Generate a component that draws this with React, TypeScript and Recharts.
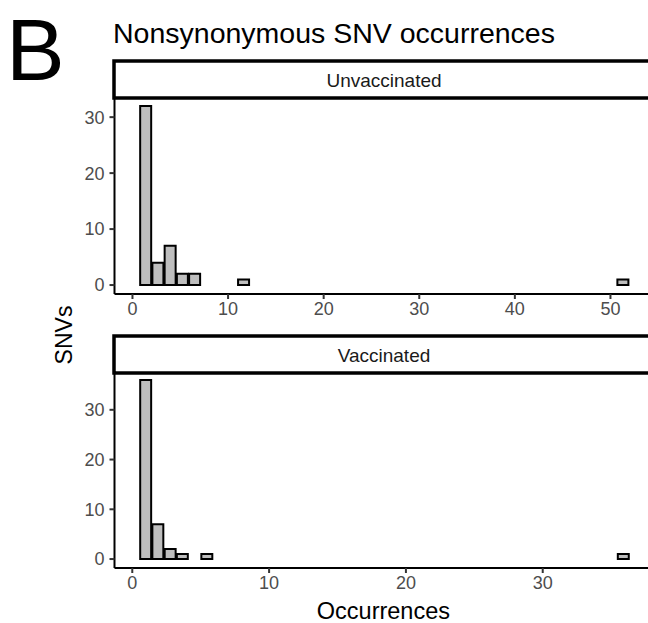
import { BarChart, Bar, XAxis, YAxis } from 'recharts';

// histogram bins (bin centres, counts)
const unvaxBins = [1.34, 2.62, 3.9, 5.18, 6.46, 11.58, 51.26];
const unvaxCounts = [32, 4, 7, 2, 2, 1, 1];
const vaxBins = [0.95, 1.84, 2.74, 3.63, 5.42, 35.86];
const vaxCounts = [36, 7, 2, 1, 1, 1];

const unvaxXTicks = [0, 10, 20, 30, 40, 50];
const vaxXTicks = [0, 10, 20, 30];
const yTicks = [0, 10, 20, 30];

const FONT = '"Liberation Sans", Arial, Helvetica, sans-serif';
const tickStyle = { fontSize: 18, fill: '#4d4d4d', fontFamily: FONT };

type Bin = { x: number; n: number };

function Panel({
  data,
  xDomain,
  xTicks,
  yDomain,
  top,
  barSize,
}: {
  data: Bin[];
  xDomain: [number, number];
  xTicks: number[];
  yDomain: [number, number];
  top: number;
  barSize: number;
}) {
  return (
    <div style={{ position: 'absolute', left: 0, top, width: 660, height: 234 }}>
      <BarChart
        width={660}
        height={234}
        data={data}
        margin={{ top: 7, right: 7, left: 74.5, bottom: 0 }}
      >
        <XAxis
          type="number"
          dataKey="x"
          domain={xDomain}
          ticks={xTicks}
          allowDataOverflow
          height={30}
          tickSize={5}
          tickMargin={3}
          tick={tickStyle}
          axisLine={{ stroke: '#000', strokeWidth: 2 }}
          tickLine={{ stroke: '#333', strokeWidth: 2 }}
        />
        <YAxis
          type="number"
          domain={yDomain}
          ticks={yTicks}
          allowDataOverflow
          width={40}
          tickSize={5}
          tickMargin={5}
          tick={tickStyle}
          axisLine={{ stroke: '#000', strokeWidth: 2 }}
          tickLine={{ stroke: '#333', strokeWidth: 2 }}
        />
        <Bar
          dataKey="n"
          fill="#bebebe"
          stroke="#000"
          strokeWidth={2}
          barSize={barSize}
          isAnimationActive={false}
        />
      </BarChart>
    </div>
  );
}

function Strip({ top, label }: { top: number; label: string }) {
  return (
    <g>
      <rect x={114} y={top} width={560} height={37} fill="#fff" stroke="#000" strokeWidth={3.5} />
      <text x={384} y={top + 25.5} textAnchor="middle" fontSize={19} fill="#1a1a1a" fontFamily={FONT}>
        {label}
      </text>
    </g>
  );
}

export default function App() {
  const unvax = unvaxBins.map((x, i) => ({ x, n: unvaxCounts[i] }));
  const vax = vaxBins.map((x, i) => ({ x, n: vaxCounts[i] }));

  return (
    <div
      style={{
        position: 'absolute',
        left: 0,
        top: 0,
        width: 648,
        height: 623,
        overflow: 'hidden',
        background: '#fff',
        fontFamily: FONT,
      }}
    >
      <svg width={648} height={623} style={{ position: 'absolute', left: 0, top: 0 }}>
        <text x={6} y={80} fontSize={88} fill="#000" fontFamily={FONT}>
          B
        </text>
        <text x={113} y={43.3} fontSize={28.5} fill="#000" fontFamily={FONT}>
          Nonsynonymous SNV occurrences
        </text>
        <Strip top={61} label="Unvaccinated" />
        <Strip top={336} label="Vaccinated" />
        <text
          x={71.7}
          y={335}
          fontSize={23}
          textAnchor="middle"
          fill="#000"
          fontFamily={FONT}
          transform="rotate(-90, 71.7, 335)"
        >
          SNVs
        </text>
        <text x={383.4} y={619} fontSize={23.5} textAnchor="middle" fill="#000" fontFamily={FONT}>
          Occurrences
        </text>
      </svg>

      <Panel data={unvax} xDomain={[-1.88, 54.45]} xTicks={unvaxXTicks} yDomain={[-1.6, 33.6]} top={90} barSize={12.24} />
      <Panel data={vax} xDomain={[-1.3, 38.06]} xTicks={vaxXTicks} yDomain={[-1.8, 37.8]} top={364} barSize={12.24} />
    </div>
  );
}
